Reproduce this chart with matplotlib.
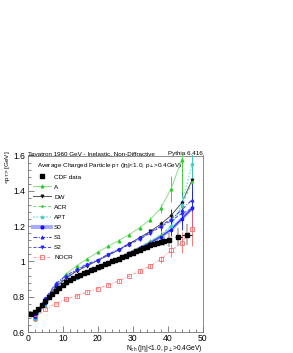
import matplotlib
matplotlib.use("Agg")
import matplotlib.pyplot as plt
from matplotlib.lines import Line2D
from matplotlib.ticker import MultipleLocator

plt.rcParams['font.family'] = ['Liberation Sans', 'DejaVu Sans']
plt.rcParams['mathtext.fontset'] = 'custom'
plt.rcParams['mathtext.rm'] = 'Liberation Sans'
plt.rcParams['mathtext.it'] = 'Liberation Sans:italic'
plt.rcParams['mathtext.default'] = 'regular'

# ---------------- data ----------------
cdf_n = list(range(1, 40)) + [40.5, 43, 45.5]
cdf_pt = [0.700, 0.715, 0.733, 0.755, 0.777, 0.798, 0.816, 0.832, 0.851, 0.868,
          0.882, 0.896, 0.906, 0.915, 0.925, 0.934, 0.942, 0.951, 0.959, 0.968,
          0.976, 0.983, 0.991, 1.000, 1.008, 1.016, 1.024, 1.032, 1.040, 1.049,
          1.058, 1.066, 1.075, 1.084, 1.092, 1.100, 1.106, 1.112, 1.118,
          1.122, 1.140, 1.152]
cdf_err = [0.004] * 29 + [0.006, 0.007, 0.008, 0.010, 0.012, 0.014, 0.017, 0.020,
                          0.024, 0.028, 0.040, 0.050, 0.058]
cdf_xerr = [0] * 39 + [0.5, 1.0, 1.5]

mc_n = [2, 5, 8, 11, 14, 17, 20, 23, 26, 29, 32, 35, 38, 41, 44, 47]
A_pt    = [0.675, 0.770, 0.860, 0.930, 0.975, 1.015, 1.052, 1.086, 1.118, 1.152, 1.190, 1.237, 1.300, 1.410, 1.574, 1.750]
DW_pt   = [0.685, 0.775, 0.855, 0.905, 0.945, 0.975, 1.005, 1.035, 1.065, 1.100, 1.135, 1.170, 1.210, 1.260, 1.330, 1.460]
ACR_pt  = [0.670, 0.755, 0.835, 0.880, 0.910, 0.940, 0.965, 0.990, 1.020, 1.050, 1.080, 1.115, 1.150, 1.200, 1.310, 1.450]
APT_pt  = [0.675, 0.755, 0.830, 0.875, 0.905, 0.935, 0.960, 0.985, 1.010, 1.040, 1.070, 1.100, 1.140, 1.200, 1.320, 1.550]
S0_pt   = [0.685, 0.765, 0.840, 0.880, 0.910, 0.940, 0.965, 0.990, 1.015, 1.045, 1.075, 1.105, 1.140, 1.180, 1.240, 1.300]
S1_pt   = [0.690, 0.790, 0.875, 0.920, 0.955, 0.985, 1.010, 1.040, 1.070, 1.100, 1.130, 1.165, 1.200, 1.240, 1.290, 1.350]
S2_pt   = [0.690, 0.785, 0.865, 0.910, 0.950, 0.980, 1.005, 1.035, 1.065, 1.095, 1.125, 1.160, 1.195, 1.230, 1.270, 1.300]
NOCR_pt = [0.677, 0.730, 0.761, 0.786, 0.805, 0.827, 0.846, 0.867, 0.889, 0.917, 0.945, 0.974, 1.011, 1.062, 1.105, 1.186]
mc_err  = [0.003, 0.003, 0.003, 0.004, 0.004, 0.005, 0.005, 0.006, 0.007, 0.008, 0.010, 0.013, 0.020, 0.035, 0.060, 0.100]
A_err   = [0.003, 0.003, 0.003, 0.004, 0.004, 0.005, 0.005, 0.006, 0.007, 0.008, 0.010, 0.013, 0.025, 0.075, 0.330, 0.300]
APT_err = mc_err[:-1] + [0.120]

labels = ["CDF data", "A", "DW", "ACR", "APT", "S0", "S1", "S2", "NOCR"]

x_ticks = [0, 10, 20, 30, 40, 50]
y_ticks = [0.6, 0.8, 1.0, 1.2, 1.4, 1.6]
y_ticklabels = ["0.6", "0.8", "1", "1.2", "1.4", "1.6"]

# ---------------- figure ----------------
W, H = 293, 353
fig = plt.figure(figsize=(W / 100, H / 100), dpi=100)
ax = fig.add_axes([27.8 / W, 1 - 332 / H, 174.7 / W, 176.5 / H])
ax.set_xlim(0, 50)
ax.set_ylim(0.6, 1.6)

styles = [
    # values, err, label, color, linecolor, ls, marker, ms, lw
    (A_pt, A_err, "A", "#22cc22", "#88e088", "-", "^", 2.2, 0.7),
    (DW_pt, mc_err, "DW", "#111111", "#555555", "-", "v", 2.2, 0.7),
    (ACR_pt, mc_err, "ACR", "#33cc33", "#66dd66", (0, (3, 2)), "o", 1.3, 0.7),
    (APT_pt, APT_err, "APT", "#44cccc", "#99e5e5", (0, (1, 1)), "*", 2.6, 1.2),
    (S0_pt, mc_err, "S0", "#1010ff", "#3333ff", "-", "o", 2.0, 0.9),
    (S1_pt, mc_err, "S1", "#2222ff", "#3333ff", (0, (4, 1.5, 1, 1.5)), "^", 2.2, 0.7),
    (S2_pt, mc_err, "S2", "#2222ff", "#4444ff", (0, (3, 2)), "v", 2.2, 0.7),
    (NOCR_pt, mc_err, "NOCR", "#ff6666", "#ff9999", (0, (3, 1.5, 1, 1.5)), "s", 2.6, 0.7),
]

handles = []
# CDF data
ax.errorbar(cdf_n, cdf_pt, yerr=cdf_err, fmt="none", ecolor="#bbbbbb", elinewidth=1.4, zorder=3)
ax.errorbar(cdf_n, cdf_pt, xerr=cdf_xerr, fmt="s", color="black", ms=2.6, elinewidth=0.6,
            capsize=0, zorder=6)
handles.append(Line2D([], [], ls="none", marker="s", color="black", ms=2.6))

for vals, err, lab, col, lcol, ls, mk, ms, lw in styles:
    if lab == "S0":
        ax.plot(mc_n, vals, color="#aaaaff", lw=2.4, zorder=3.5, solid_capstyle="butt")
    ax.errorbar(mc_n, vals, yerr=err, fmt="none", ecolor=col, elinewidth=0.6, capsize=0, zorder=4)
    ax.plot(mc_n, vals, color=lcol, ls=ls, lw=lw, zorder=4)
    mfc = "none" if lab == "NOCR" else col
    ax.plot(mc_n, vals, ls="none", marker=mk, ms=ms, color=col, mfc=mfc, mec=col,
            mew=0.6, zorder=5)
    if lab == "S0":
        handles.append(Line2D([], [], color="#aaaaff", lw=3.0, marker=mk, ms=ms,
                              mfc=col, mec=col))
    else:
        handles.append(Line2D([], [], color=lcol, ls=ls, lw=lw, marker=mk, ms=ms,
                              mfc=mfc, mec=col, mew=0.6))

# axes styling (ROOT-like)
for s in ax.spines.values():
    s.set_linewidth(0.6)
    s.set_color("#777777")
ax.set_xticks(x_ticks)
ax.set_yticks(y_ticks)
ax.set_yticklabels(y_ticklabels)
ax.xaxis.set_minor_locator(MultipleLocator(2))
ax.yaxis.set_minor_locator(MultipleLocator(0.04))
ax.tick_params(which="both", direction="in", top=False, right=False, labelsize=6.2,
               width=0.5, color="#555555")
ax.tick_params(axis="x", pad=1.5)
ax.tick_params(axis="y", pad=2)
ax.tick_params(which="major", length=4)
ax.tick_params(which="minor", length=2)

ax.legend(handles, labels[:], loc="upper left", bbox_to_anchor=(0.03, 0.895),
          frameon=False, fontsize=4.6, handlelength=2.8, handletextpad=0.5,
          labelspacing=0.72, borderpad=0, borderaxespad=0)

ax.text(0.05, 0.945, r"Average Charged Particle p$_{T}$ (|η|<1.0, p$_{\perp}$>0.4GeV)",
        transform=ax.transAxes, fontsize=4.6, ha="left", va="center")

fig.text(28 / W, 1 - 153.3 / H, "Tevatron 1960 GeV - Inelastic, Non-Diffractive",
         fontsize=4.5, ha="left", va="center")
fig.text(203 / W, 1 - 153.3 / H, "Pythia 6.416", fontsize=4.5, ha="right", va="center")
fig.text(7 / W, 1 - 150 / H, r"<p$_{T}$> [GeV]", fontsize=4.6, rotation=90,
         ha="center", va="top")
fig.text(202.5 / W, 1 - 348 / H, r"N$_{ch}$ (|η|<1.0, p$_{\perp}$>0.4GeV)", fontsize=4.8,
         ha="right", va="center")

fig.savefig("out.png", dpi=100)
